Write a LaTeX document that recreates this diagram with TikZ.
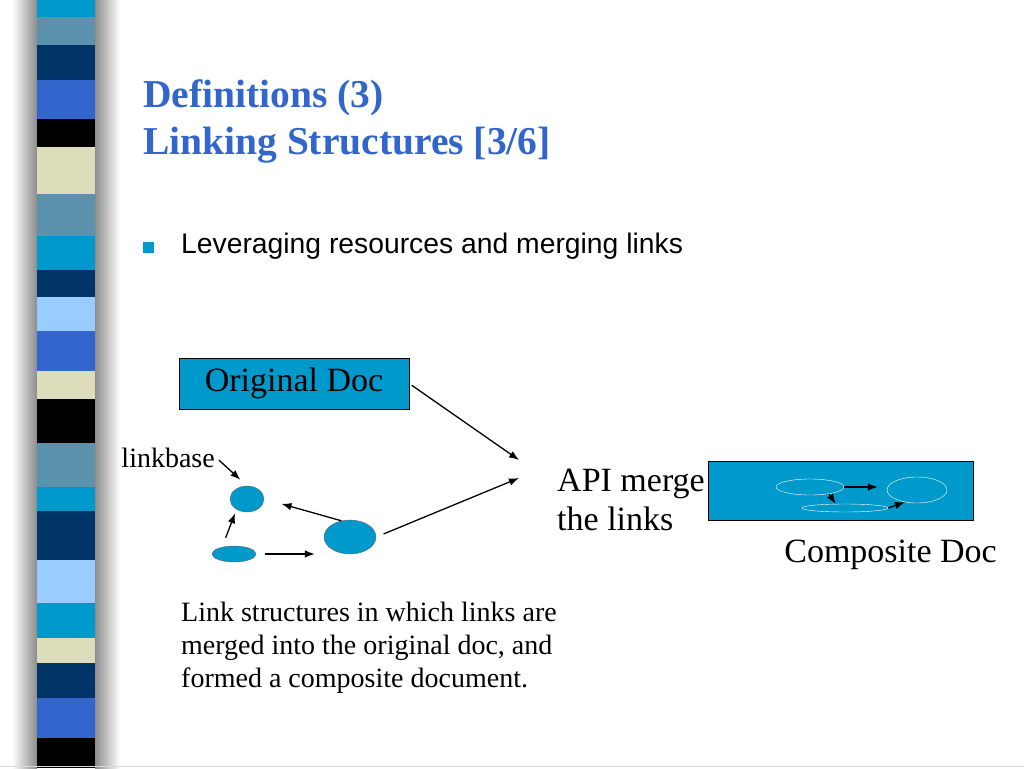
\documentclass[tikz,border=0pt]{standalone}
\usepackage{fontspec}
\setmainfont{Liberation Serif}
\setsansfont{Liberation Sans}
\usetikzlibrary{shapes.geometric,arrows.meta}
\definecolor{slidecyan}{RGB}{0,153,204}
\definecolor{slidesteel}{RGB}{92,146,172}
\definecolor{slidenavy}{RGB}{0,51,102}
\definecolor{slideroyal}{RGB}{51,102,204}
\definecolor{slidebeige}{RGB}{221,221,187}
\definecolor{slidesky}{RGB}{153,204,255}
\begin{document}
\begin{tikzpicture}[x=1pt,y=-1pt,
    doc/.style={draw,fill=slidecyan,inner sep=0pt},
    blob/.style={ellipse,draw=black!60,fill=slidecyan,inner sep=0pt},
    ring/.style={ellipse,draw=white,inner sep=0pt},
    big/.style={font=\fontsize{34}{39}\selectfont},
    small/.style={font=\fontsize{28}{33}\selectfont},
    link/.style={-{Latex[length=10pt,width=7.5pt]},line width=1.3pt}]
        \fill[white] (0,0) rectangle (1024,768);
        \useasboundingbox (0,0) rectangle (1024,768);

        % side strip
        \shade[left color=white,right color=black!45] (12,0) rectangle (37,768);
        \shade[left color=black!45,right color=white] (95,0) rectangle (120,768);
        \foreach \top/\bot/\col in {0/17/slidecyan,17/45/slidesteel,45/80/slidenavy,
            80/119/slideroyal,119/147/black,147/194/slidebeige,194/236/slidesteel,
            236/270/slidecyan,270/297/slidenavy,297/331/slidesky,331/371/slideroyal,
            371/399/slidebeige,399/443/black,443/487/slidesteel,487/511/slidecyan,
            511/560/slidenavy,560/603/slidesky,603/638/slidecyan,638/663/slidebeige,
            663/698/slidenavy,698/738/slideroyal,738/768/black}
          \fill[\col] (37,\top) rectangle (95,\bot);
        \draw[black!15] (0,766.5) -- (1024,766.5);

        \node[anchor=base west,inner sep=0pt,align=left,text=slideroyal,
          font=\fontsize{39.5}{47}\selectfont\bfseries] (title) at (143,154)
          {Definitions (3)\\Linking Structures [3/6]};
        \node[fill=slidecyan,minimum size=11pt,inner sep=0pt] (bul) at (148,247) {};
        \node[anchor=base west,inner sep=0pt,font=\fontsize{28.3}{33}\selectfont\sffamily] (lev)
          at (181,253) {Leveraging resources and merging links};

        \node[doc,big,minimum width=230pt,minimum height=51pt] (orig) at (294,383.5) {Original Doc};
        \node[small,anchor=base east,inner sep=1pt] (lb) at (216,467) {linkbase};
        \node[blob,minimum width=34pt,minimum height=26pt] (e1) at (247,499) {};
        \node[blob,minimum width=44pt,minimum height=16pt] (e2) at (234,554) {};
        \node[blob,minimum width=52pt,minimum height=34pt] (e3) at (350,537) {};

        \node[big,align=left,anchor=base west,inner sep=0pt] (api) at (557,530) {API merge\\the links};
        \coordinate (in1) at (519,460);
        \coordinate (in2) at (519,478);

        \node[doc,minimum width=265pt,minimum height=59pt] (comp) at (840.5,490.5) {};
        \node[ring,minimum width=68pt,minimum height=16pt] (ca) at (810,487) {};
        \node[ring,minimum width=60pt,minimum height=26pt] (cb) at (917,490) {};
        \node[ring,minimum width=86pt,minimum height=8pt] (cc) at (845,508) {};
        \node[big,anchor=base east,inner sep=0pt] (complabel) at (997,562) {Composite Doc};

        \node[small,align=left,anchor=base west,inner sep=0pt] (cap) at (181,687)
          {Link structures in which links are\\merged into the original doc, and\\formed a composite document.};

        \draw[link,shorten <=3pt] (orig.east) -- (in1);
        \draw[link,shorten <=8pt] (e3.east) -- (in2);
        \draw[link,shorten <=4pt,shorten >=9pt] (lb.east) -- (e1.north);
        \draw[link,shorten <=10pt,shorten >=4pt] (e2.150) -- (e1.225);
        \draw[link,shorten <=9pt,shorten >=9pt] (e2.east) -- (e2.east -| e3.west);
        \draw[link,shorten >=18pt] (e3.118) -- (e1.east);

        \draw[link,shorten >=9pt] (ca.east) -- (ca.east -| cb.west);
        \draw[link] (ca.-20) -- (cc.156);
        \draw[link] (cc.east) -- (cb.225);
      \end{tikzpicture}
\end{document}
